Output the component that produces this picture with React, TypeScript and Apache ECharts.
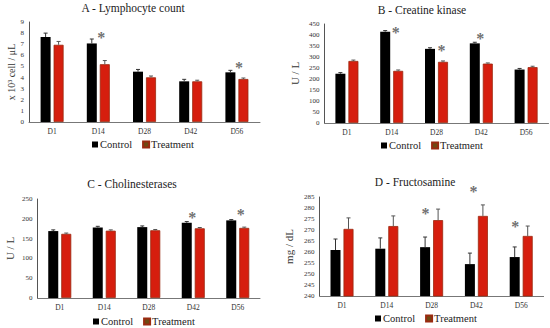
import React, { useEffect, useRef } from "react";
import * as echarts from "echarts";

const categories = ["D1", "D14", "D28", "D42", "D56"];

const lymphControl = [7.65, 7.07, 4.53, 3.66, 4.47];
const lymphControlErr = [0.35, 0.4, 0.2, 0.18, 0.18];
const lymphTreatment = [6.95, 5.2, 4.02, 3.66, 3.87];
const lymphTreatmentErr = [0.3, 0.33, 0.12, 0.1, 0.09];
const lymphStars = [null, 8.0, null, null, 5.3];

const ckControl = [224, 415, 337, 362, 243];
const ckControlErr = [5, 5, 5, 5, 5];
const ckTreatment = [282, 237, 278, 270, 254];
const ckTreatmentErr = [4, 4, 4, 3, 4];
const ckStars = [null, 430, 347, 403, null];

const cheControl = [169, 178, 179, 190, 196];
const cheControlErr = [3, 3, 3, 3, 2];
const cheTreatment = [162, 170, 171, 176, 177];
const cheTreatmentErr = [2, 2, 2, 2, 2];
const cheStars = [null, null, null, 214, 221];

const fructControl = [260.9, 261.5, 262.2, 254.5, 257.7];
const fructControlErr = [5, 4.9, 4.6, 5, 4.6];
const fructTreatment = [270.5, 271.8, 274.5, 276.4, 267.3];
const fructTreatmentErr = [5, 4.6, 5, 5, 4.5];
const fructStars = [null, null, 279.5, 289.5, 273.6];

const SERIF = "Liberation Serif";
const CONTROL_COLOR = "#000000";
const TREAT_COLOR = "#d61e0e";
const TREAT_LEGEND = "#6e4a12";

const panels = [
  {
    title: "A - Lymphocyte count", tx: 133, ty: 8,
    grid: { left: 29, top: 22, width: 231, height: 100 },
    y: { min: 0, max: 9, interval: 1 }, yName: "x 10³ cell / μL", nameGap: 12, nameSize: 10,
    control: lymphControl, cErr: lymphControlErr, treat: lymphTreatment, tErr: lymphTreatmentErr,
    stars: lymphStars, starDx: [0, 3, 0, 0, 2],
    legend: { left: 92, top: 139 },
  },
  {
    title: "B - Creatine kinase", tx: 422, ty: 10,
    grid: { left: 324.5, top: 24, width: 224, height: 99 },
    y: { min: 0, max: 450, interval: 50 }, yName: "U / L", nameGap: 24, nameSize: 11,
    control: ckControl, cErr: ckControlErr, treat: ckTreatment, tErr: ckTreatmentErr,
    stars: ckStars, starDx: [0, 4, 5, -1, 0],
    legend: { left: 381, top: 140 },
  },
  {
    title: "C - Cholinesterases", tx: 132, ty: 184,
    grid: { left: 37.5, top: 199, width: 222.5, height: 99 },
    y: { min: 0, max: 250, interval: 50 }, yName: "U / L", nameGap: 22, nameSize: 11,
    control: cheControl, cErr: cheControlErr, treat: cheTreatment, tErr: cheTreatmentErr,
    stars: cheStars, starDx: [0, 0, 0, -1, 3],
    legend: { left: 93, top: 316 },
  },
  {
    title: "D - Fructosamine", tx: 415, ty: 182,
    grid: { left: 319.6, top: 197, width: 224, height: 99 },
    y: { min: 240, max: 285, interval: 5 }, yName: "mg / dL", nameGap: 25, nameSize: 11,
    control: fructControl, cErr: fructControlErr, treat: fructTreatment, tErr: fructTreatmentErr,
    stars: fructStars, starDx: [0, 0, -6, -3, -6],
    legend: { left: 375, top: 313 },
  },
];

const BAR_W = 10;
const BAR_OFF = 6.5;

function errorSeries(idx: number, values: number[], errs: number[], offset: number, color: string) {
  return {
    type: "custom",
    name: `err-${idx}-${offset}`,
    xAxisIndex: idx,
    yAxisIndex: idx,
    z: 5,
    clip: false,
    data: values.map((v, i) => [i, v, errs[i]]),
    renderItem: (params: any, api: any) => {
      const i = api.value(0);
      const v = api.value(1);
      const e = api.value(2);
      const base = api.coord([i, v]);
      const top = api.coord([i, v + e]);
      const x = base[0] + offset;
      return {
        type: "group",
        children: [
          { type: "line", shape: { x1: x, y1: base[1], x2: x, y2: top[1] }, style: { stroke: color, lineWidth: 1 } },
          { type: "line", shape: { x1: x - 2, y1: top[1], x2: x + 2, y2: top[1] }, style: { stroke: color, lineWidth: 1 } },
        ],
      };
    },
  };
}

function buildOption() {
  const grids: any[] = [];
  const xAxes: any[] = [];
  const yAxes: any[] = [];
  const series: any[] = [];
  const legends: any[] = [];
  const graphics: any[] = [];

  panels.forEach((p, idx) => {
    grids.push({ ...p.grid, outerBoundsMode: "none", containLabel: false });
    xAxes.push({
      type: "category",
      gridIndex: idx,
      data: categories,
      axisLine: { lineStyle: { color: "#777", width: 1 } },
      axisTick: { show: false },
      axisLabel: { fontFamily: SERIF, fontSize: 7.5, color: "#333", margin: 5 },
    });
    yAxes.push({
      type: "value",
      gridIndex: idx,
      ...p.y,
      name: p.yName,
      nameLocation: "middle",
      nameGap: p.nameGap,
      nameTextStyle: { fontFamily: SERIF, fontSize: p.nameSize, color: "#333" },
      axisLine: { show: true, lineStyle: { color: "#555", width: 1 } },
      axisTick: { show: false },
      splitLine: { show: false },
      axisLabel: { fontFamily: SERIF, fontSize: 7, color: "#333", margin: 5 },
    });
    series.push({
      type: "bar",
      name: "Control",
      xAxisIndex: idx,
      yAxisIndex: idx,
      data: p.control,
      barWidth: BAR_W,
      barGap: "30%",
      itemStyle: { color: CONTROL_COLOR },
    });
    series.push({
      type: "bar",
      name: "Treatment",
      xAxisIndex: idx,
      yAxisIndex: idx,
      data: p.treat,
      barWidth: BAR_W,
      barGap: "30%",
      itemStyle: { color: TREAT_COLOR, borderColor: "#9a2a10", borderWidth: 0.8 },
    });
    series.push(errorSeries(idx, p.control, p.cErr, -BAR_OFF, "#333"));
    series.push(errorSeries(idx, p.treat, p.tErr, BAR_OFF, "#555"));
    series.push({
      type: "scatter",
      name: `stars-${idx}`,
      xAxisIndex: idx,
      yAxisIndex: idx,
      symbolSize: 1,
      clip: false,
      itemStyle: { color: "transparent" },
      z: 6,
      data: p.stars
        .map((s, i) => (s == null ? null : { value: [i, s], label: { offset: [p.starDx[i], 4] } }))
        .filter((d) => d != null),
      label: {
        show: true,
        position: "inside",
        formatter: "*",
        fontFamily: SERIF,
        fontSize: 16,
        fontWeight: "bold",
        color: "#4a4a4a",
      },
    });
    legends.push({
      left: p.legend.left,
      top: p.legend.top,
      itemWidth: 6,
      itemHeight: 6,
      itemGap: 10,
      icon: "rect",
      padding: 0,
      textStyle: { fontFamily: SERIF, fontSize: 10.5, color: "#222", padding: [0, 0, 0, -3] },
      data: [
        { name: "Control", itemStyle: { color: CONTROL_COLOR } },
        { name: "Treatment", itemStyle: { color: TREAT_LEGEND } },
      ],
      selectedMode: false,
    });
    graphics.push({
      type: "text",
      x: p.tx,
      y: p.ty,
      style: {
        text: p.title,
        align: "center",
        verticalAlign: "middle",
        fontFamily: SERIF,
        fontSize: 11.5,
        fill: "#222",
      },
    });
  });

  return {
    animation: false,
    backgroundColor: "#ffffff",
    textStyle: { fontFamily: SERIF },
    grid: grids,
    xAxis: xAxes,
    yAxis: yAxes,
    series,
    legend: legends,
    graphic: graphics,
  };
}

export default function App() {
  const ref = useRef<HTMLDivElement>(null);
  useEffect(() => {
    if (!ref.current) return;
    const chart = echarts.init(ref.current, null, { renderer: "svg" });
    chart.setOption(buildOption() as any);
    return () => chart.dispose();
  }, []);
  return (
    <div
      ref={ref}
      style={{ position: "absolute", left: 0, top: 0, width: 550, height: 328, background: "#fff" }}
    />
  );
}
